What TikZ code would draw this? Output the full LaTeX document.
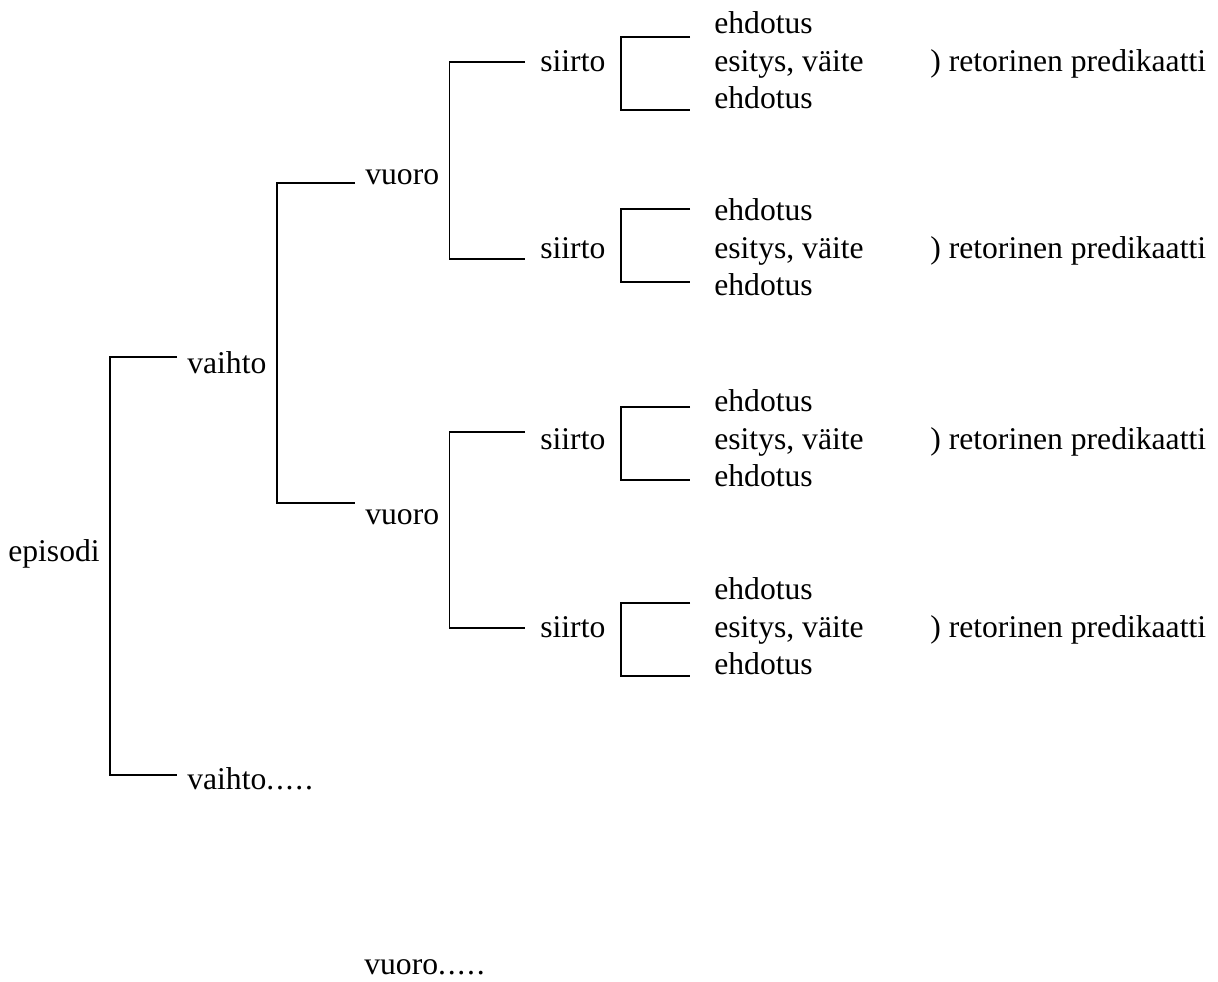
\documentclass[tikz,border=0pt]{standalone}
\usepackage{fontspec}
\setmainfont{Liberation Serif}
\usepackage{tikz}
\newcommand{\morerows}{.\kern1pt.\kern1pt.\kern1pt.\kern1pt.}
\tikzset{
	tree/.style={inner xsep=0.2cm, inner ysep=0pt, anchor=base west},
	leaf/.style={tree, inner xsep=0.48cm},
	link/.style={line width=1.1pt},
}

\begin{document}
\begin{tikzpicture}[x=0.02cm, y=-0.02cm, font=\fontsize{18}{22}\selectfont]
	\useasboundingbox (0,0) rectangle (1218,982);
	\node[tree] (episodi) at (-2,562) {episodi};
	\node[tree] (vaihto1) at (177,374) {vaihto};
	\node[tree] (vaihto2) at (177,790) {vaihto\morerows};
	\node[tree] (vuoro1) at (355,185) {vuoro};
	\node[tree] (vuoro2) at (355,525) {vuoro};
	\node[tree] (vuoroEnd) at (354,975) {vuoro\morerows};
	\foreach \k/\yb/\dy in {1/72/0, 2/259/-15, 3/450/-8, 4/638/0} {
		\node[tree, inner xsep=0.3cm] (siirto\k) at (525,\yb) {siirto};
		\node[leaf] (ehdA\k) at (690,\yb-38) {ehdotus};
		\node[leaf] (esitys\k) at (690,\yb) {esitys, väite};
		\node[leaf] (ehdB\k) at (690,\yb+37) {ehdotus};
		\node[tree, inner xsep=0pt] (retor\k) at (930,\yb) {) retorinen predikaatti};
		\draw[link] ([shift={(0,\dy+14)}]ehdA\k.west) -| (siirto\k.east) |- ([shift={(0,\dy+12)}]ehdB\k.west);
	}
	\draw[link] (siirto1.west) -| (vuoro1.east) |- ([shift={(0,10)}]siirto2.west);
	\draw[link] ([shift={(0,-8)}]siirto3.west) -| (vuoro2.east) |- (siirto4.west);
	\draw[link] ([shift={(0,5)}]vuoro1.west) -| (vaihto1.east) |- ([shift={(0,-15)}]vuoro2.west);
	\draw[link] ([shift={(0,-6)}]vaihto1.west) -| (episodi.east) |- ([shift={(0,-4)}]vaihto2.west);
\end{tikzpicture}
\end{document}
